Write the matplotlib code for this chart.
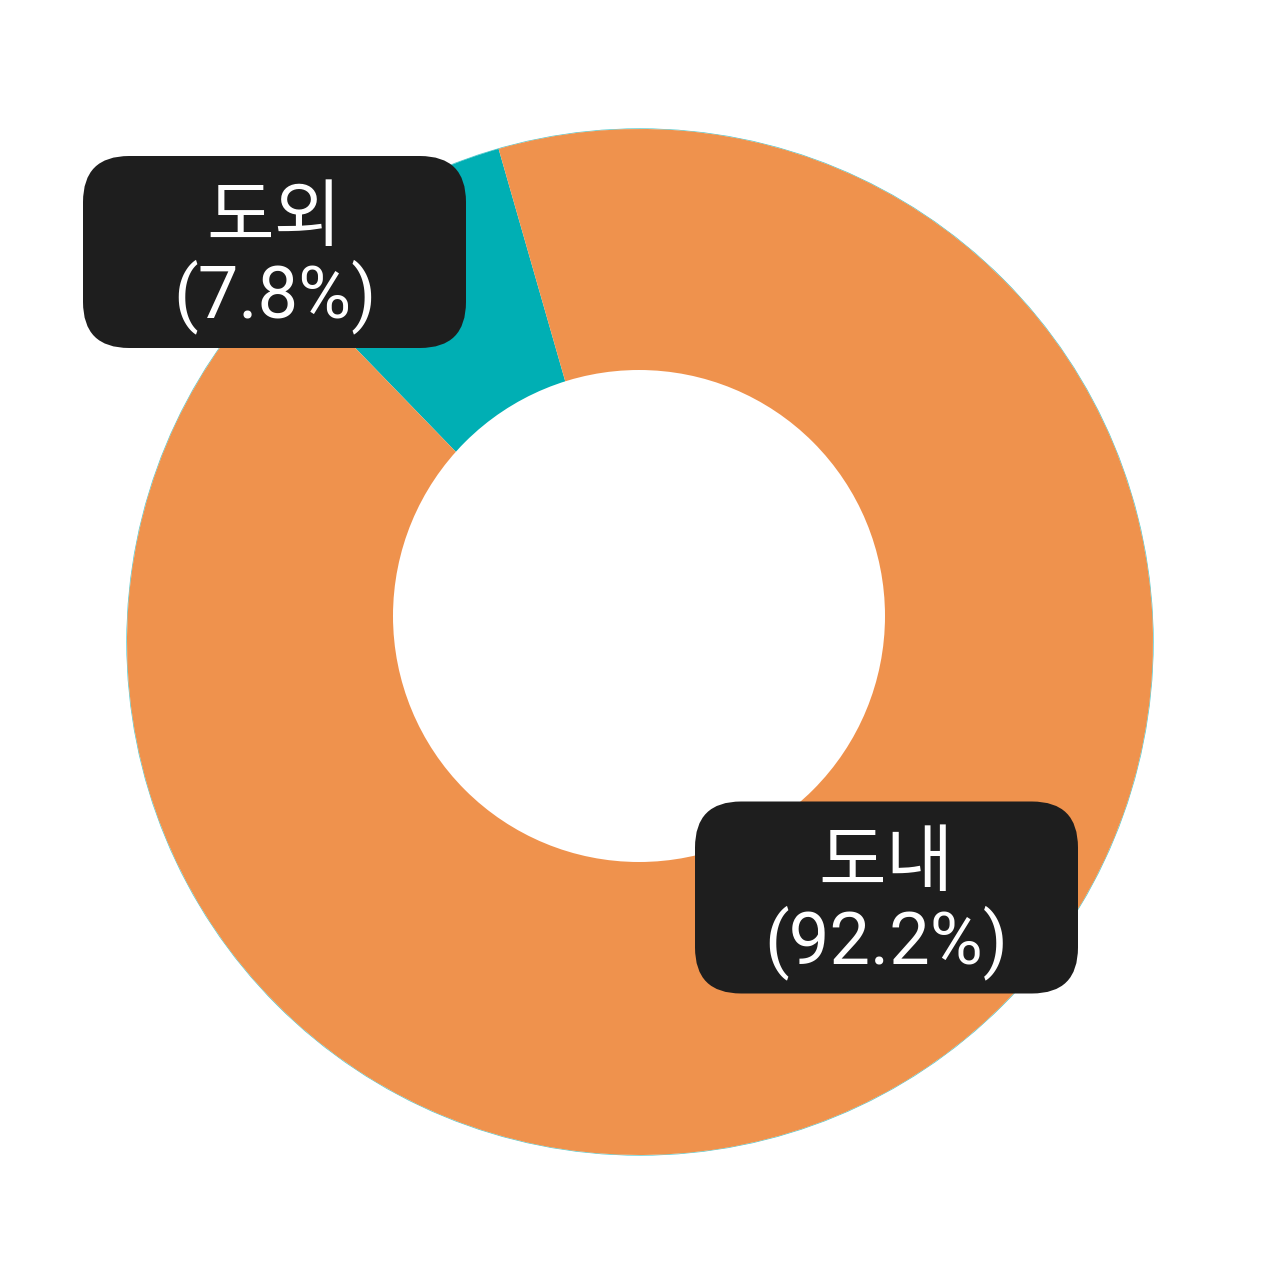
import matplotlib.pyplot as plt
from matplotlib.patches import Circle, FancyBboxPatch

plt.rcParams['font.family'] = ['Roboto', 'Noto Sans CJK KR', 'DejaVu Sans']

# data
labels = ['도외', '도내']
shares = [7.8, 92.2]
colors = ['#00AFB4', '#EF924D']

# layout (pixel coords, y measured from bottom)
W, H = 1280, 1286
center = (640, H - 642)
radius = 513
hole_center = (639, H - 616)
hole_radius = 246
label_boxes = [(274.5, H - 252), (886.5, H - 897.5)]
box_w, box_h = 383, 192

fig = plt.figure(figsize=(W / 100, H / 100), dpi=100)
ax = fig.add_axes([0, 0, 1, 1])

# faint teal rim under the ring
ax.add_patch(Circle(center, radius + 0.3, facecolor='none', edgecolor=colors[0],
                    linewidth=0.5, alpha=0.7, zorder=0.5))

ax.pie(shares, colors=colors, startangle=106, counterclock=True,
       center=center, radius=radius, wedgeprops=dict(linewidth=0))

# white hole (sits a bit higher than the ring centre in the original)
ax.add_patch(Circle(hole_center, hole_radius, facecolor='white', edgecolor='none', zorder=3))

for (lx, ly), name, val in zip(label_boxes, labels, shares):
    box = FancyBboxPatch((lx - box_w / 2, ly - box_h / 2), box_w, box_h,
                         boxstyle='round,pad=0,rounding_size=46',
                         facecolor='#1E1E1E', edgecolor='none', zorder=4)
    ax.add_patch(box)
    ax.text(lx, ly + 33, name, color='white', fontsize=53,
            ha='center', va='center', zorder=5)
    ax.text(lx, ly - 45, f'({val}%)', color='white', fontsize=52,
            ha='center', va='center', zorder=5)

ax.set_xlim(0, W)
ax.set_ylim(0, H)
ax.set_aspect('equal')
ax.axis('off')

plt.savefig('out.png', dpi=100, facecolor='white')
